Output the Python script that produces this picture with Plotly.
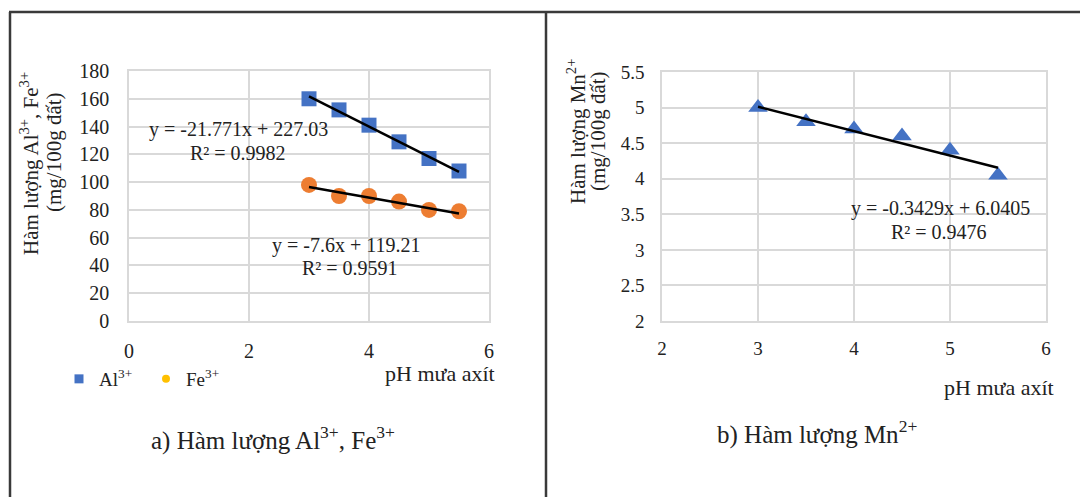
import plotly.graph_objects as go

# ---------------- data ----------------
ph = [3, 3.5, 4, 4.5, 5, 5.5]
al_values = [160, 152, 141, 129, 117, 108]
fe_values = [98, 90, 90, 86, 80, 79]
mn_values = [5.0, 4.8, 4.7, 4.6, 4.4, 4.05]

al_fit = [-21.771, 227.03]   # slope, intercept
fe_fit = [-7.6, 119.21]
mn_fit = [-0.3429, 6.0405]
fit_x = [3, 5.5]

left_xticks = [0, 2, 4, 6]
left_yticks = [0, 20, 40, 60, 80, 100, 120, 140, 160, 180]
right_xticks = [2, 3, 4, 5, 6]
right_yticks = [2, 2.5, 3, 3.5, 4, 4.5, 5, 5.5]

W, H = 1080, 497
FONT = "Liberation Serif, Times New Roman, serif"
BLUE = "#4472C4"
ORANGE = "#ED7D31"
GRID = "#D9D9D9"
TXT = "#222"


def px(x):
    return x / W


def py(y):
    return 1 - y / H


def line_pts(fit):
    return [fit[0] * x + fit[1] for x in fit_x]


fig = go.Figure()

# left panel
fig.add_trace(go.Scatter(x=ph, y=al_values, mode="markers", showlegend=False,
                         marker=dict(symbol="square", size=15, color=BLUE),
                         xaxis="x", yaxis="y"))
fig.add_trace(go.Scatter(x=ph, y=fe_values, mode="markers", showlegend=False,
                         marker=dict(symbol="circle", size=16, color=ORANGE),
                         xaxis="x", yaxis="y"))
fig.add_trace(go.Scatter(x=fit_x, y=line_pts(al_fit), mode="lines", showlegend=False,
                         line=dict(color="black", width=2.5), xaxis="x", yaxis="y"))
fig.add_trace(go.Scatter(x=fit_x, y=line_pts(fe_fit), mode="lines", showlegend=False,
                         line=dict(color="black", width=2.5), xaxis="x", yaxis="y"))
# legend entries
fig.add_trace(go.Scatter(x=[None], y=[None], mode="markers", name="Al<sup>3+</sup>",
                         marker=dict(symbol="square", size=9, color=BLUE),
                         xaxis="x", yaxis="y"))
fig.add_trace(go.Scatter(x=[None], y=[None], mode="markers", name="Fe<sup>3+</sup>",
                         marker=dict(symbol="circle", size=8, color="#FFC000"),
                         xaxis="x", yaxis="y"))

# right panel
fig.add_trace(go.Scatter(x=ph, y=mn_values, mode="markers", showlegend=False,
                         marker=dict(symbol="triangle-up", size=17, color=BLUE),
                         xaxis="x2", yaxis="y2"))
fig.add_trace(go.Scatter(x=fit_x, y=line_pts(mn_fit), mode="lines", showlegend=False,
                         line=dict(color="black", width=2.5), xaxis="x2", yaxis="y2"))

axis_common = dict(showgrid=True, gridcolor=GRID, gridwidth=1.5, zeroline=False,
                   showline=True, mirror=True, linecolor=GRID, linewidth=1.5,
                   ticks="", automargin=False)

fig.update_layout(
    width=W, height=H,
    margin=dict(l=0, r=0, t=0, b=0, pad=0, autoexpand=False),
    paper_bgcolor="white", plot_bgcolor="white",
    font=dict(family=FONT, color=TXT),
    xaxis=dict(domain=[px(129), px(489)], range=[0, 6], tickvals=left_xticks,
               anchor="y", ticklabelstandoff=11,
               tickfont=dict(family=FONT, size=20, color=TXT), **axis_common),
    yaxis=dict(domain=[py(321), py(71)], range=[0, 180], tickvals=left_yticks,
               anchor="x", ticklabelstandoff=14,
               tickfont=dict(family=FONT, size=20, color=TXT), **axis_common),
    xaxis2=dict(domain=[px(662), px(1046)], range=[2, 6], tickvals=right_xticks,
                anchor="y2", ticklabelstandoff=9,
                tickfont=dict(family=FONT, size=19, color=TXT), **axis_common),
    yaxis2=dict(domain=[py(321), py(72)], range=[2, 5.5], tickvals=right_yticks,
                anchor="x2", ticklabelstandoff=12,
                tickfont=dict(family=FONT, size=19, color=TXT), **axis_common),
    legend=dict(orientation="h", x=px(59), y=py(379), xanchor="left", yanchor="middle",
                font=dict(family=FONT, size=19, color=TXT),
                bgcolor="rgba(0,0,0,0)", entrywidth=42),
)


def ann(x, y, text, size=20, angle=0, xanchor="center"):
    fig.add_annotation(x=px(x), y=py(y), xref="paper", yref="paper", text=text,
                       showarrow=False, xanchor=xanchor, yanchor="middle",
                       textangle=angle,
                       font=dict(family=FONT, size=size, color=TXT))


# trend equations
ann(238, 130, "y = -21.771x + 227.03")
ann(238, 153, "R² = 0.9982")
ann(346, 245, "y = -7.6x + 119.21")
ann(350, 268, "R² = 0.9591")
ann(940, 208, "y = -0.3429x + 6.0405")
ann(939, 232, "R² = 0.9476")

# axis titles (two lines each, rotated)
ann(30, 164, "Hàm lượng Al<sup>3+</sup>, Fe<sup>3+</sup>", size=21, angle=-90)
ann(54, 152, "(mg/100g đất)", size=21, angle=-90)
ann(577, 132, "Hàm lượng Mn<sup>2+</sup>", size=21, angle=-90)
ann(598, 131, "(mg/100g đất)", size=21, angle=-90)
ann(497, 373, "pH mưa axít", size=22, xanchor="right")
ann(1056, 387, "pH mưa axít", size=22, xanchor="right")

# captions
ann(273, 438, "a) Hàm lượng Al<sup>3+</sup>, Fe<sup>3+</sup>", size=25)
ann(817, 432, "b) Hàm lượng Mn<sup>2+</sup>", size=25)

# frame lines
frame = [((10, 497), (10, 12)), ((9, 12), (1080, 12)), ((546, 12), (546, 497))]
for (x0, y0), (x1, y1) in frame:
    fig.add_shape(type="line", xref="paper", yref="paper",
                  x0=px(x0), y0=py(y0), x1=px(x1), y1=py(y1),
                  line=dict(color="#3a3a3a", width=2.5))

fig.write_html("out.html")
